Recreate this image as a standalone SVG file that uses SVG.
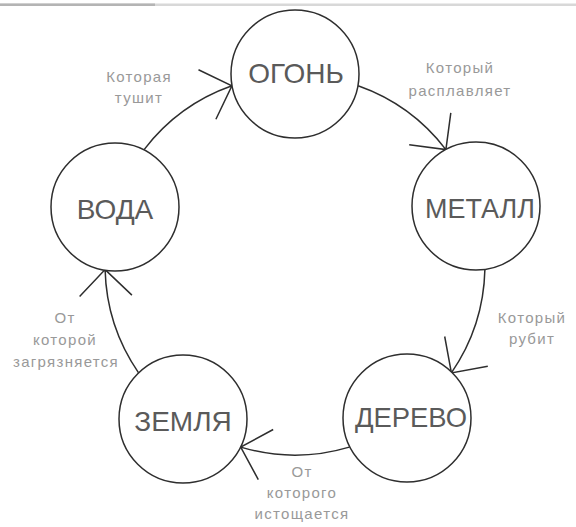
<svg xmlns="http://www.w3.org/2000/svg" width="576" height="527" viewBox="0 0 576 527">
<style>
.node circle{fill:#fff;stroke:#2e2e2e;stroke-width:1.5}
.node text{font-family:"Liberation Sans",Arial,sans-serif;font-size:28px;fill:#5a5a5a;text-anchor:middle}
.lbl{font-family:"Liberation Sans",Arial,sans-serif;font-size:15px;fill:#999;text-anchor:middle;letter-spacing:1.3px}
.edge{fill:none;stroke:#2e2e2e;stroke-width:1.5}
</style>
<rect x="0" y="0" width="576" height="527" fill="#fff"/>
<rect x="0" y="3.5" width="576" height="2.5" fill="#d8d8d8"/>
<rect x="0" y="3.5" width="155" height="2.5" fill="#b4b4b4"/>
<g id="connectors">
<path class="edge" d="M358.1 85.8 A190 190 0 0 1 445.9 149.6 M450.8 112.9 L445.9 149.6 L409.2 144.7"/>
<path class="edge" d="M484.9 269.6 A190 190 0 0 1 451.4 372.9 M487.8 366.2 L451.4 372.9 L444.7 336.5"/>
<path class="edge" d="M349.3 447.1 A190 190 0 0 1 240.7 447.1 M273.2 429.5 L240.7 447.1 L258.3 479.6"/>
<path class="edge" d="M138.6 372.9 A190 190 0 0 1 105.1 269.6 M79.6 296.4 L105.1 269.6 L131.9 295.1"/>
<path class="edge" d="M144.1 149.6 A190 190 0 0 1 231.9 85.8 M198.5 69.8 L231.9 85.8 L215.9 119.2"/>
</g>
<g id="labels">
<text class="lbl" x="139" y="82">Которая</text>
<text class="lbl" x="139" y="103">тушит</text>
<text class="lbl" x="460" y="73">Который</text>
<text class="lbl" x="460" y="96">расплавляет</text>
<text class="lbl" x="532" y="323">Который</text>
<text class="lbl" x="532" y="344">рубит</text>
<text class="lbl" x="302" y="477">От</text>
<text class="lbl" x="302" y="498">которого</text>
<text class="lbl" x="302" y="519">истощается</text>
<text class="lbl" x="65" y="323">От</text>
<text class="lbl" x="65" y="345">которой</text>
<text class="lbl" x="66" y="367">загрязняется</text>
</g>
<g id="node-ogon" class="node"><circle cx="295" cy="74" r="64"/><text x="296" y="83">ОГОНЬ</text></g>
<g id="node-metall" class="node"><circle cx="476" cy="206" r="64"/><text x="480" y="218" textLength="110" lengthAdjust="spacingAndGlyphs">МЕТАЛЛ</text></g>
<g id="node-derevo" class="node"><circle cx="407" cy="418" r="64"/><text x="411" y="427" textLength="112" lengthAdjust="spacingAndGlyphs">ДЕРЕВО</text></g>
<g id="node-zemlya" class="node"><circle cx="183" cy="419" r="64"/><text x="183" y="431">ЗЕМЛЯ</text></g>
<g id="node-voda" class="node"><circle cx="115" cy="207" r="64"/><text x="115" y="219">ВОДА</text></g>
</svg>
